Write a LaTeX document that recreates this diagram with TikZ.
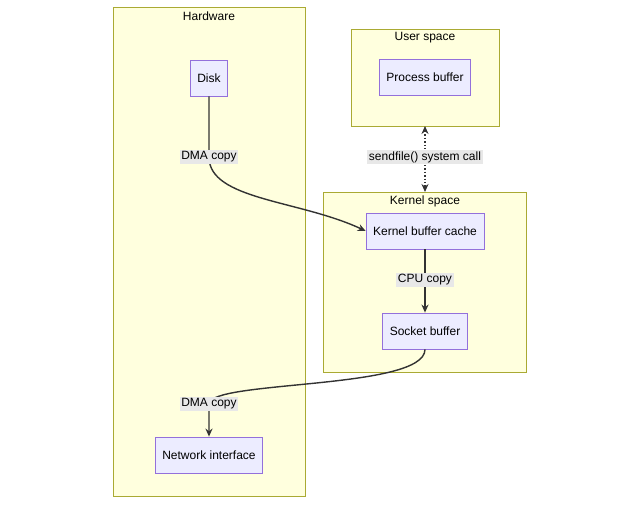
\documentclass[tikz,border=0pt]{standalone}
\usepackage{fontspec}
\setmainfont{Liberation Sans}
\usetikzlibrary{arrows.meta}
\definecolor{clfill}{HTML}{FFFFDE}
\definecolor{cldraw}{HTML}{AAAA33}
\definecolor{ndfill}{HTML}{ECECFF}
\definecolor{nddraw}{HTML}{9370DB}
\definecolor{lbl}{HTML}{E8E8E8}
\definecolor{edge}{HTML}{333333}
\tikzset{
 cluster/.style={draw=cldraw,fill=clfill,line width=0.8pt},
 box/.style={draw=nddraw,fill=ndfill,line width=0.8pt,minimum height=36pt,inner xsep=7pt,font=\fontsize{12}{14}\selectfont},
 ttl/.style={font=\fontsize{12}{14}\selectfont},
 elab/.style={fill=lbl,inner sep=1.5pt,font=\fontsize{12}{14}\selectfont},
 conn/.style={draw=edge,line width=1.4pt,-{Stealth[length=8pt,width=7pt]}}
}
\begin{document}
\begin{tikzpicture}[x=1pt,y=-1pt]
\useasboundingbox (0,0) rectangle (640,504);
\draw[cluster] (113,7) rectangle (305,496);
\node[ttl] (thw) at (209,16) {Hardware};
\draw[cluster] (351,29) rectangle (499,126);
\node[ttl] (tus) at (425,38) {User space};
\draw[cluster] (323,192) rectangle (526,372);
\node[ttl] (tks) at (425,201) {Kernel space};
\node[box] (disk) at (209,78) {Disk};
\node[box] (nic) at (209,455) {Network interface};
\node[box] (pb) at (425,77) {Process buffer};
\node[box] (kbc) at (425,231) {Kernel buffer cache};
\node[box] (sb) at (425,331) {Socket buffer};
\coordinate (c1) at (209,157);
\coordinate (c2) at (209,404);
\draw[conn] (disk.south) -- (c1) .. controls (209,200) and (300,200) .. (kbc.west);
\node[elab] at (c1) {DMA copy};
\draw[conn] (kbc) -- (sb);
\node[elab] at (425,280) {CPU copy};
\draw[draw=edge,line width=1.4pt,dotted,{Stealth[length=8pt,width=7pt]}-{Stealth[length=8pt,width=7pt]}] (425,126) -- (425,192);
\node[elab] at (425,157) {sendfile() system call};
\draw[conn] (sb.south) .. controls (425,390) and (209,380) .. (c2) -- (nic.north);
\node[elab] at (c2) {DMA copy};
\end{tikzpicture}
\end{document}
